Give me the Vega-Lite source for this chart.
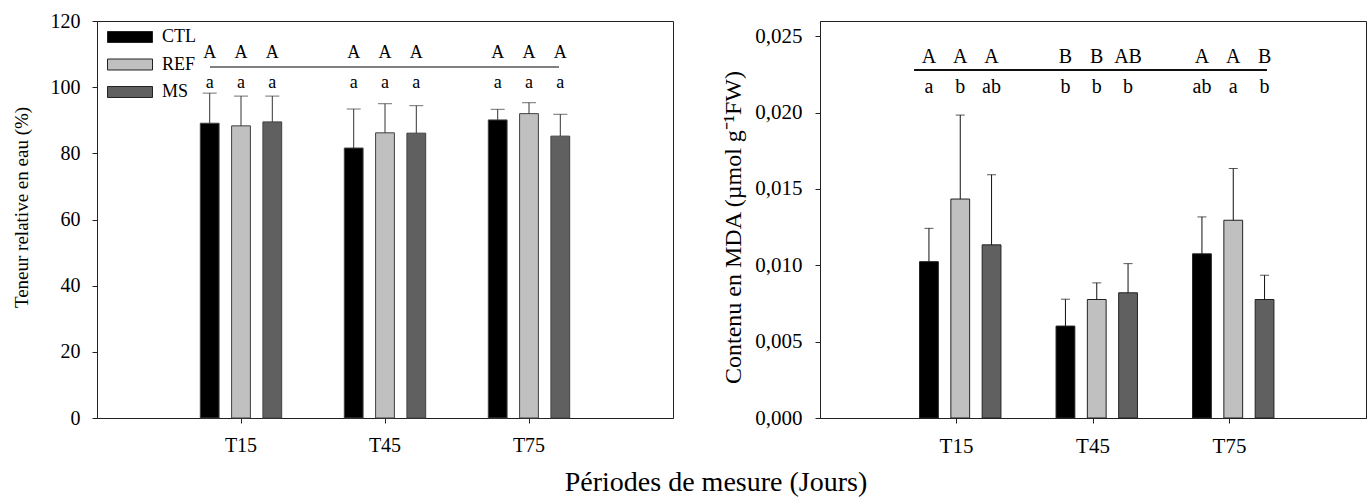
{
  "$schema": "https://vega.github.io/schema/vega-lite/v6.json",
  "background": "white",
  "padding": {"left": 11, "top": 10, "right": 2, "bottom": 4},
  "spacing": 47,
  "config": {
    "font": "Liberation Serif",
    "view": {"stroke": "#222222", "strokeWidth": 1},
    "axis": {"domainColor": "#222222", "tickColor": "#222222", "labelColor": "black", "titleColor": "black", "grid": false, "labelFont": "Liberation Serif", "titleFont": "Liberation Serif", "titleFontWeight": "normal", "tickSize": 5}
  },
  "title": {"text": "Périodes de mesure (Jours)", "orient": "bottom", "anchor": "middle", "fontSize": 28, "fontWeight": "normal", "font": "Liberation Serif", "color": "black", "offset": 12, "dx": 27},
  "resolve": {"scale": {"fill": "independent"}, "legend": {"fill": "independent"}},
  "hconcat": [
    {
      "width": 576,
      "height": 397,
      "data": {"values": [
        {"period": "T15", "group": "CTL", "value": 89.1, "upper": 98.2, "up": "A", "low": "a"},
        {"period": "T15", "group": "REF", "value": 88.3, "upper": 97.3, "up": "A", "low": "a"},
        {"period": "T15", "group": "MS", "value": 89.5, "upper": 97.3, "up": "A", "low": "a"},
        {"period": "T45", "group": "CTL", "value": 81.6, "upper": 93.4, "up": "A", "low": "a"},
        {"period": "T45", "group": "REF", "value": 86.2, "upper": 95.0, "up": "A", "low": "a"},
        {"period": "T45", "group": "MS", "value": 86.1, "upper": 94.4, "up": "A", "low": "a"},
        {"period": "T75", "group": "CTL", "value": 90.1, "upper": 93.3, "up": "A", "low": "a"},
        {"period": "T75", "group": "REF", "value": 92.0, "upper": 95.3, "up": "A", "low": "a"},
        {"period": "T75", "group": "MS", "value": 85.2, "upper": 91.8, "up": "A", "low": "a"}
      ]},
      "layer": [
        {
          "mark": {"type": "bar", "stroke": "#404040", "strokeWidth": 1},
          "encoding": {
            "x": {"field": "period", "type": "nominal", "title": null, "scale": {"domain": ["T15", "T45", "T75"], "paddingInner": 0, "paddingOuter": 0.5}, "axis": {"labelAngle": 0, "labelFontSize": 20, "labelPadding": 12}},
            "xOffset": {"field": "group", "type": "nominal", "scale": {"domain": ["CTL", "REF", "MS"], "paddingInner": 0.4, "paddingOuter": 1.2}},
            "y": {"field": "value", "type": "quantitative", "title": "Teneur relative en eau (%)", "scale": {"domain": [0, 120]}, "axis": {"values": [0, 20, 40, 60, 80, 100, 120], "labelFontSize": 20, "titleFontSize": 19, "labelPadding": 12, "titlePadding": 19, "titleY": 186}},
            "fill": {"field": "group", "type": "nominal", "scale": {"domain": ["CTL", "REF", "MS"], "range": ["#000000", "#c0c0c0", "#606060"]},
              "legend": {"orient": "none", "legendX": 10, "legendY": 9, "title": null, "symbolType": "M-1,-0.244H1V0.244H-1Z", "symbolSize": 2025, "symbolStrokeColor": "#222222", "symbolStrokeWidth": 1, "labelFontSize": 18, "labelFont": "Liberation Serif", "labelColor": "black", "labelOffset": 9, "clipHeight": 14, "rowPadding": 9.5}}
          }
        },
        {
          "mark": {"type": "rule", "color": "#333333", "strokeWidth": 1},
          "encoding": {
            "x": {"field": "period", "type": "nominal", "title": null},
            "xOffset": {"field": "group", "type": "nominal"},
            "y": {"field": "value", "type": "quantitative", "title": "Teneur relative en eau (%)"},
            "y2": {"field": "upper"}
          }
        },
        {
          "mark": {"type": "tick", "color": "#333333", "size": 14, "thickness": 1},
          "encoding": {
            "x": {"field": "period", "type": "nominal", "title": null},
            "xOffset": {"field": "group", "type": "nominal"},
            "y": {"field": "upper", "type": "quantitative", "title": "Teneur relative en eau (%)"}
          }
        },
        {
          "mark": {"type": "text", "fontSize": 18, "baseline": "alphabetic", "align": "center", "color": "black"},
          "encoding": {
            "x": {"field": "period", "type": "nominal", "title": null},
            "xOffset": {"field": "group", "type": "nominal"},
            "y": {"datum": 108.7, "type": "quantitative", "title": "Teneur relative en eau (%)"},
            "text": {"field": "up"}
          }
        },
        {
          "mark": {"type": "text", "fontSize": 18, "baseline": "alphabetic", "align": "center", "color": "black"},
          "encoding": {
            "x": {"field": "period", "type": "nominal", "title": null},
            "xOffset": {"field": "group", "type": "nominal"},
            "y": {"datum": 99.7, "type": "quantitative", "title": "Teneur relative en eau (%)"},
            "text": {"field": "low"}
          }
        },
        {
          "mark": {"type": "rule", "color": "#808080", "strokeWidth": 1.5, "xOffset": -31, "x2Offset": 30},
          "encoding": {
            "x": {"datum": "T15", "type": "nominal", "title": null},
            "x2": {"datum": "T75"},
            "y": {"datum": 106.2, "type": "quantitative", "title": "Teneur relative en eau (%)"}
          }
        }
      ]
    },
    {
      "width": 546,
      "height": 397,
      "data": {"values": [
        {"period": "T15", "group": "CTL", "value": 0.01024, "upper": 0.01242, "up": "A", "low": "a"},
        {"period": "T15", "group": "REF", "value": 0.01434, "upper": 0.01984, "up": "A", "low": "b"},
        {"period": "T15", "group": "MS", "value": 0.01134, "upper": 0.01593, "up": "A", "low": "ab"},
        {"period": "T45", "group": "CTL", "value": 0.00602, "upper": 0.00778, "up": "B", "low": "b"},
        {"period": "T45", "group": "REF", "value": 0.00776, "upper": 0.00885, "up": "B", "low": "b"},
        {"period": "T45", "group": "MS", "value": 0.0082, "upper": 0.01011, "up": "AB", "low": "b"},
        {"period": "T75", "group": "CTL", "value": 0.01075, "upper": 0.01317, "up": "A", "low": "ab"},
        {"period": "T75", "group": "REF", "value": 0.01295, "upper": 0.01634, "up": "A", "low": "a"},
        {"period": "T75", "group": "MS", "value": 0.00776, "upper": 0.00935, "up": "B", "low": "b"}
      ]},
      "layer": [
        {
          "mark": {"type": "bar", "stroke": "#222222", "strokeWidth": 1},
          "encoding": {
            "x": {"field": "period", "type": "nominal", "title": null, "scale": {"domain": ["T15", "T45", "T75"], "paddingInner": 0, "paddingOuter": 0.5}, "axis": {"labelAngle": 0, "labelFontSize": 21, "labelPadding": 12}},
            "xOffset": {"field": "group", "type": "nominal", "scale": {"domain": ["CTL", "REF", "MS"], "paddingInner": 0.4, "paddingOuter": 1.2}},
            "y": {"field": "value", "type": "quantitative", "title": "Contenu en MDA (µmol g⁻¹FW)", "scale": {"domain": [0, 0.026]}, "axis": {"values": [0, 0.005, 0.01, 0.015, 0.02, 0.025], "labelExpr": "replace(format(datum.value, '.3f'), '.', ',')", "labelFontSize": 21, "titleFontSize": 24, "labelPadding": 13, "titlePadding": 9, "titleY": 206}},
            "fill": {"field": "group", "type": "nominal", "scale": {"domain": ["CTL", "REF", "MS"], "range": ["#000000", "#c0c0c0", "#606060"]}, "legend": null}
          }
        },
        {
          "mark": {"type": "rule", "color": "#111111", "strokeWidth": 1},
          "encoding": {
            "x": {"field": "period", "type": "nominal", "title": null},
            "xOffset": {"field": "group", "type": "nominal"},
            "y": {"field": "value", "type": "quantitative", "title": "Contenu en MDA (µmol g⁻¹FW)"},
            "y2": {"field": "upper"}
          }
        },
        {
          "mark": {"type": "tick", "color": "#111111", "size": 9, "thickness": 1},
          "encoding": {
            "x": {"field": "period", "type": "nominal", "title": null},
            "xOffset": {"field": "group", "type": "nominal"},
            "y": {"field": "upper", "type": "quantitative", "title": "Contenu en MDA (µmol g⁻¹FW)"}
          }
        },
        {
          "mark": {"type": "text", "fontSize": 20, "baseline": "alphabetic", "align": "center", "color": "black"},
          "encoding": {
            "x": {"field": "period", "type": "nominal", "title": null},
            "xOffset": {"field": "group", "type": "nominal"},
            "y": {"datum": 0.02327, "type": "quantitative", "title": "Contenu en MDA (µmol g⁻¹FW)"},
            "text": {"field": "up"}
          }
        },
        {
          "mark": {"type": "text", "fontSize": 20, "baseline": "alphabetic", "align": "center", "color": "black"},
          "encoding": {
            "x": {"field": "period", "type": "nominal", "title": null},
            "xOffset": {"field": "group", "type": "nominal"},
            "y": {"datum": 0.02131, "type": "quantitative", "title": "Contenu en MDA (µmol g⁻¹FW)"},
            "text": {"field": "low"}
          }
        },
        {
          "mark": {"type": "rule", "color": "#111111", "strokeWidth": 1.5, "xOffset": -42, "x2Offset": 37},
          "encoding": {
            "x": {"datum": "T15", "type": "nominal", "title": null},
            "x2": {"datum": "T75"},
            "y": {"datum": 0.02278, "type": "quantitative", "title": "Contenu en MDA (µmol g⁻¹FW)"}
          }
        }
      ]
    }
  ]
}
